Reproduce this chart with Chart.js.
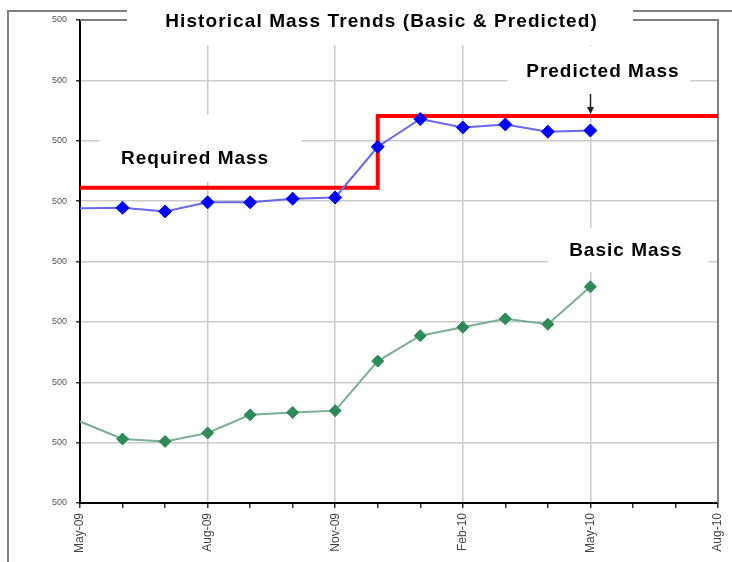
<!DOCTYPE html>
<html>
<head>
<meta charset="utf-8">
<script src="https://cdn.jsdelivr.net/npm/chart.js@4.4.1/dist/chart.umd.min.js"></script>
<style>
  html, body { margin: 0; padding: 0; background: #fff; overflow: hidden; }
  #wrap { width: 732px; height: 562px; overflow: hidden; position: relative; }
  canvas { display: block; }
</style>
</head>
<body>
<div id="wrap"><canvas id="c" width="732" height="600"></canvas></div>
<script>
// Monthly categories along the x axis (labels shown every third month)
const months = ['May-09', 'Jun-09', 'Jul-09', 'Aug-09', 'Sep-09', 'Oct-09', 'Nov-09', 'Dec-09',
                'Jan-10', 'Feb-10', 'Mar-10', 'Apr-10', 'May-10', 'Jun-10', 'Jul-10', 'Aug-10'];

// Value axis tick labels, bottom to top
const yTickLabels = ['500', '500', '500', '500', '500', '500', '500', '500', '500'];

// Series values
const predictedMass = [488, 489, 483, 498, 498, 504, 506, 590, 636, 622, 627, 615, 617, null, null, null];
const basicMass     = [135, 106, 102, 116, 146, 150, 153, 235, 277, 291, 305, 296, 358, null, null, null];
const requiredMass  = [522, 522, 522, 522, 522, 522, 522, 641, 641, 641, 641, 641, 641, 641, 641, 641];

const chartTitle = 'Historical Mass Trends (Basic & Predicted)';

// Text callouts: anchored to a month index and value, offsets in px
const callouts = [
  { text: 'Required Mass',  at: [3, 522],  dx: -13, dy: -29,  box: [-108, -73, 94, -6] },
  { text: 'Predicted Mass', at: [12, 641], dx: 12,  dy: -44,  box: [-83, -70, 100, -4], arrow: true },
  { text: 'Basic Mass',     at: [12, 358], dx: 35,  dy: -36,  box: [-42, -59, 118, -15] }
];

const fontFamily = '"Liberation Sans", Arial, sans-serif';

// draws centred text with extra tracking between letters
function spacedText(ctx, text, cx, cy, spacing) {
  const chars = Array.from(text);
  const widths = chars.map(ch => ctx.measureText(ch).width);
  const total = ctx.measureText(text).width + spacing * (chars.length - 1);
  let xPos = cx - total / 2;
  ctx.textAlign = 'left';
  ctx.textBaseline = 'middle';
  chars.forEach((ch, i) => {
    ctx.fillText(ch, xPos, cy);
    const pair = i < chars.length - 1 ? ctx.measureText(ch + chars[i + 1]).width - widths[i + 1] : widths[i];
    xPos += pair + spacing;
  });
}

const decorations = {
  id: 'decorations',
  beforeDatasetsDraw(chart) {
    const { ctx, chartArea: a, scales: { x, y } } = chart;
    ctx.save();
    // outer frame (left and top edges)
    ctx.strokeStyle = '#7f7f7f';
    ctx.lineWidth = 2;
    ctx.beginPath();
    ctx.moveTo(8, chart.height);
    ctx.lineTo(8, 11);
    ctx.lineTo(chart.width, 11);
    ctx.stroke();
    // plot area border (top and right)
    ctx.beginPath();
    ctx.moveTo(a.left, a.top);
    ctx.lineTo(a.right, a.top);
    ctx.lineTo(a.right, a.bottom);
    ctx.stroke();

    // title on a white panel
    ctx.fillStyle = '#fff';
    ctx.fillRect(127, 0, 506, 45);
    ctx.fillStyle = '#000';
    ctx.font = 'bold 19px ' + fontFamily;
    spacedText(ctx, chartTitle, 381, 22, 1.1);

    // callout panels and text
    callouts.forEach(c => {
      const px = x.getPixelForValue(c.at[0]);
      const py = y.getPixelForValue(c.at[1]);
      const [x0, y0, x1, y1] = c.box;
      ctx.fillStyle = '#fff';
      ctx.fillRect(px + x0, py + y0, x1 - x0, y1 - y0);
      ctx.fillStyle = '#000';
      ctx.font = 'bold 19px ' + fontFamily;
      spacedText(ctx, c.text, px + c.dx, py + c.dy, 1);
    });
    ctx.restore();
  },
  afterDatasetsDraw(chart) {
    const { ctx, scales: { x, y } } = chart;
    ctx.save();
    callouts.filter(c => c.arrow).forEach(c => {
      const px = Math.round(x.getPixelForValue(c.at[0])) + 0.5;
      const py = y.getPixelForValue(c.at[1]);
      ctx.strokeStyle = '#222';
      ctx.fillStyle = '#222';
      ctx.lineWidth = 1.5;
      ctx.beginPath();
      ctx.moveTo(px, py - 22);
      ctx.lineTo(px, py - 8);
      ctx.stroke();
      ctx.beginPath();
      ctx.moveTo(px - 3.5, py - 9);
      ctx.lineTo(px + 3.5, py - 9);
      ctx.lineTo(px, py - 2);
      ctx.closePath();
      ctx.fill();
    });
    ctx.restore();
  }
};

new Chart(document.getElementById('c'), {
  type: 'line',
  data: {
    labels: months,
    datasets: [
      {
        label: 'Predicted Mass',
        data: predictedMass,
        borderColor: '#6767f0',
        borderWidth: 2,
        tension: 0,
        pointStyle: 'rectRot',
        pointRadius: ctx => (ctx.dataIndex === 0 ? 0 : 6.5),
        pointBackgroundColor: '#0000ff',
        pointBorderColor: '#0000ff',
        pointBorderWidth: 1
      },
      {
        label: 'Basic Mass',
        data: basicMass,
        borderColor: '#7aae96',
        borderWidth: 2,
        tension: 0,
        pointStyle: 'rectRot',
        pointRadius: ctx => (ctx.dataIndex === 0 ? 0 : 6),
        pointBackgroundColor: '#2e8b57',
        pointBorderColor: '#2e8b57',
        pointBorderWidth: 1
      },
      {
        label: 'Required Mass',
        data: requiredMass,
        borderColor: '#ff0000',
        borderWidth: 4,
        stepped: 'before',
        pointRadius: 0
      }
    ]
  },
  options: {
    responsive: false,
    animation: false,
    devicePixelRatio: 1,
    layout: { padding: { left: 0, top: 20, right: 14, bottom: 0 } },
    plugins: {
      legend: { display: false },
      tooltip: { enabled: false },
      title: { display: false }
    },
    scales: {
      x: {
        type: 'category',
        offset: false,
        grid: {
          offset: false,
          color: c => (c.index % 3 === 0 ? '#cbcbcb' : 'rgba(0,0,0,0)'),
          lineWidth: 1.5,
          tickColor: '#333',
          tickLength: 5
        },
        border: { color: '#000', width: 2 },
        ticks: {
          autoSkip: false,
          maxRotation: 90,
          minRotation: 90,
          padding: 5,
          color: '#444',
          font: { family: fontFamily, size: 12 },
          callback: (v, i) => (i % 3 === 0 ? months[i] : '')
        },
        afterFit: s => { s.height = 97; s.paddingRight = 0; s.paddingLeft = 0; }
      },
      y: {
        min: 0,
        max: 800,
        grid: { color: '#cbcbcb', lineWidth: 1.5, tickColor: '#333', tickLength: 4 },
        border: { color: '#000', width: 2 },
        ticks: {
          stepSize: 100,
          padding: 9,
          color: '#555',
          font: { family: fontFamily, size: 9 },
          callback: (v, i) => yTickLabels[i]
        },
        afterFit: s => { s.width = 80; }
      }
    }
  },
  plugins: [decorations]
});
</script>
</body>
</html>
